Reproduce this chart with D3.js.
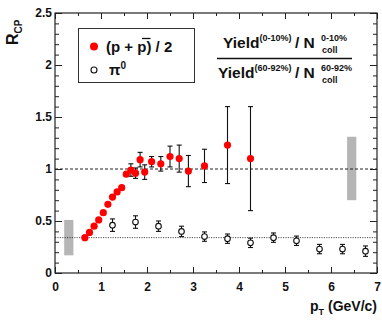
<!DOCTYPE html>
<html>
<head>
<meta charset="utf-8">
<script src="https://cdn.jsdelivr.net/npm/d3@7"></script>
<style>
  body { margin: 0; background: #fff; }
  text { font-family: "Liberation Sans", Arial, sans-serif; font-weight: bold; }
</style>
</head>
<body>
<div id="container"></div>
<script>
// (p + pbar)/2 data
var protonPt  = [0.65,0.75,0.85,0.95,1.05,1.15,1.25,1.35,1.45,1.55,1.65,1.75,1.85,1.95,2.1,2.3,2.5,2.7,2.9,3.25,3.75,4.25];
var protonR   = [0.34,0.39,0.45,0.51,0.58,0.66,0.73,0.78,0.82,0.95,0.99,0.96,1.09,0.97,1.07,1.05,1.12,1.10,0.98,1.03,1.23,1.10];
var protonErr = [0.01,0.01,0.01,0.01,0.01,0.01,0.01,0.01,0.02,0.02,0.06,0.05,0.07,0.07,0.05,0.07,0.1,0.13,0.15,0.16,0.37,0.5];

// pi0 data
var pionPt  = [1.25,1.75,2.25,2.75,3.25,3.75,4.25,4.75,5.25,5.75,6.25,6.75];
var pionR   = [0.46,0.49,0.45,0.40,0.35,0.33,0.29,0.34,0.31,0.23,0.23,0.21];
var pionErr = [0.06,0.06,0.05,0.05,0.045,0.045,0.045,0.045,0.045,0.045,0.045,0.05];

// normalization uncertainty boxes [x0, x1, yLow, yHigh]
var normBoxes = [[0.2, 0.4, 0.17, 0.51], [6.35, 6.55, 0.7, 1.31]];
var refLines = [{y: 1.0, dash: "3,2", w: 1}, {y: 0.34, dash: "1.2,1.2", w: 0.8}];

var xTicks = [0,1,2,3,4,5,6,7];
var yTicks = [0,0.5,1,1.5,2,2.5];

width = 382;
height = 325;

var svg = d3.select("#container").append("svg")
    .attr("width", width)
    .attr("height", height);

var x = d3.scaleLinear().domain([0, 7]).range([55, 377]);
var y = d3.scaleLinear().domain([0, 2.5]).range([273, 13]);

var xMinor = d3.range(0, 7.01, 0.5);
var yMinor = d3.range(0, 2.501, 0.1).map(function(v){ return +v.toFixed(1); });

// gray boxes
svg.selectAll("rect.norm")
    .data(normBoxes)
    .enter().append("rect")
    .attr("x", function(d){ return x(d[0]); })
    .attr("width", function(d){ return x(d[1]) - x(d[0]); })
    .attr("y", function(d){ return y(d[3]); })
    .attr("height", function(d){ return y(d[2]) - y(d[3]); })
    .attr("fill", "#b5b5b5");

// reference lines
svg.selectAll("line.ref")
    .data(refLines)
    .enter().append("line")
    .attr("x1", x(0)).attr("x2", x(7))
    .attr("y1", function(d){ return y(d.y); })
    .attr("y2", function(d){ return y(d.y); })
    .attr("stroke", "#222")
    .attr("stroke-width", function(d){ return d.w; })
    .attr("stroke-dasharray", function(d){ return d.dash; });

// axes (ticks inside the frame)
function styleAxis(g) {
    g.select(".domain").remove();
    g.selectAll("line").attr("stroke", "#222").attr("stroke-width", 1);
    g.selectAll("text").attr("fill", "#111").style("font-size", "12px");
}

svg.append("g").attr("transform", "translate(0," + y(0) + ")")
    .call(d3.axisBottom(x).tickValues(xTicks).tickSize(-6).tickPadding(9).tickFormat(d3.format("d")))
    .call(styleAxis);
svg.append("g").attr("transform", "translate(0," + y(0) + ")")
    .call(d3.axisBottom(x).tickValues(xMinor).tickSize(-3).tickFormat(""))
    .call(styleAxis);
svg.append("g").attr("transform", "translate(0," + y(2.5) + ")")
    .call(d3.axisTop(x).tickValues(xTicks).tickSize(-6).tickFormat(""))
    .call(styleAxis);
svg.append("g").attr("transform", "translate(0," + y(2.5) + ")")
    .call(d3.axisTop(x).tickValues(xMinor).tickSize(-3).tickFormat(""))
    .call(styleAxis);

svg.append("g").attr("transform", "translate(" + x(0) + ",0)")
    .call(d3.axisLeft(y).tickValues(yTicks).tickSize(-7).tickPadding(3).tickFormat(function(d){ return String(d); }))
    .call(styleAxis);
svg.append("g").attr("transform", "translate(" + x(0) + ",0)")
    .call(d3.axisLeft(y).tickValues(yMinor).tickSize(-4).tickFormat(""))
    .call(styleAxis);
svg.append("g").attr("transform", "translate(" + x(7) + ",0)")
    .call(d3.axisRight(y).tickValues(yTicks).tickSize(-7).tickFormat(""))
    .call(styleAxis);
svg.append("g").attr("transform", "translate(" + x(7) + ",0)")
    .call(d3.axisRight(y).tickValues(yMinor).tickSize(-4).tickFormat(""))
    .call(styleAxis);

// frame
svg.append("rect")
    .attr("x", x(0)).attr("y", y(2.5))
    .attr("width", x(7) - x(0)).attr("height", y(0) - y(2.5))
    .attr("fill", "none").attr("stroke", "#222").attr("stroke-width", 1.2);

// error bars helper
function errorBars(cls, xs, ys, es) {
    var data = xs.map(function(v, i){ return {x: v, y: ys[i], e: es[i]}; })
        .filter(function(d){ return y(d.y - d.e) - y(d.y + d.e) > 4; });
    var g = svg.append("g").attr("class", cls).attr("stroke", "#111").attr("stroke-width", 1.1);
    g.selectAll("line.v").data(data).enter().append("line")
        .attr("x1", function(d){ return x(d.x); }).attr("x2", function(d){ return x(d.x); })
        .attr("y1", function(d){ return y(d.y - d.e); }).attr("y2", function(d){ return y(d.y + d.e); });
    [-1, 1].forEach(function(s) {
        g.selectAll("line.c" + s).data(data).enter().append("line")
            .attr("x1", function(d){ return x(d.x) - 2.5; }).attr("x2", function(d){ return x(d.x) + 2.5; })
            .attr("y1", function(d){ return y(d.y + s * d.e); }).attr("y2", function(d){ return y(d.y + s * d.e); });
    });
}

errorBars("perr", protonPt, protonR, protonErr);
errorBars("pierr", pionPt, pionR, pionErr);

svg.selectAll("circle.proton")
    .data(protonPt)
    .enter().append("circle")
    .attr("cx", function(d){ return x(d); })
    .attr("cy", function(d, i){ return y(protonR[i]); })
    .attr("r", 3.6)
    .attr("fill", "#ff0000");

svg.selectAll("circle.pion")
    .data(pionPt)
    .enter().append("circle")
    .attr("cx", function(d){ return x(d); })
    .attr("cy", function(d, i){ return y(pionR[i]); })
    .attr("r", 2.8)
    .attr("fill", "#fff")
    .attr("stroke", "#111")
    .attr("stroke-width", 1.1);

// legend
var leg = svg.append("g");
leg.append("rect").attr("x", 78.5).attr("y", 28.5).attr("width", 116).attr("height", 54)
    .attr("fill", "#fff").attr("stroke", "#333").attr("stroke-width", 1);
leg.append("circle").attr("cx", 94).attr("cy", 46.5).attr("r", 4).attr("fill", "#ff0000");
leg.append("circle").attr("cx", 94).attr("cy", 70).attr("r", 3).attr("fill", "#fff")
    .attr("stroke", "#111").attr("stroke-width", 1.1);
leg.append("text").attr("x", 106).attr("y", 52).style("font-size", "15px").attr("fill", "#111")
    .text("(p + p) / 2");
// bar over the anti-proton
leg.append("line").attr("x1", 142).attr("x2", 150.5).attr("y1", 38.5).attr("y2", 38.5)
    .attr("stroke", "#111").attr("stroke-width", 1.3);
var pi = leg.append("text").attr("x", 109).attr("y", 75).style("font-size", "15px").attr("fill", "#111");
pi.append("tspan").text("\u03c0");
pi.append("tspan").attr("dy", -6).style("font-size", "10px").text("0");

// fraction label
var frac = svg.append("g").attr("fill", "#111");
function ratioPart(xs, base, cent) {
    var t = frac.append("text").attr("x", xs).attr("y", base);
    t.append("tspan").style("font-size", "15.5px").text("Yield");
    t.append("tspan").attr("dy", -7).style("font-size", "9px").text("(" + cent + ")");
    frac.append("text").attr("x", 295).attr("y", base).style("font-size", "15.5px").text("/ N");
    frac.append("text").attr("x", 321).attr("y", base - 7).style("font-size", "9px").text(cent);
    frac.append("text").attr("x", 322).attr("y", base + 5).style("font-size", "9px").text("coll");
}
ratioPart(223, 48, "0-10%");
ratioPart(218, 78, "60-92%");
frac.append("line").attr("x1", 217).attr("x2", 352).attr("y1", 58.5).attr("y2", 58.5)
    .attr("stroke", "#111").attr("stroke-width", 1.5);

// axis titles
var yl = svg.append("text").attr("transform", "translate(18,45) rotate(-90)").attr("fill", "#111");
yl.append("tspan").style("font-size", "16px").text("R");
yl.append("tspan").attr("dy", 4).style("font-size", "10px").text("CP");

var xl = svg.append("text").attr("x", 377).attr("y", 311).attr("text-anchor", "end").attr("fill", "#111");
xl.append("tspan").style("font-size", "14px").text("p");
xl.append("tspan").attr("dy", 4).style("font-size", "9px").text("T");
xl.append("tspan").attr("dy", -4).style("font-size", "14px").text(" (GeV/c)");
</script>
</body>
</html>
